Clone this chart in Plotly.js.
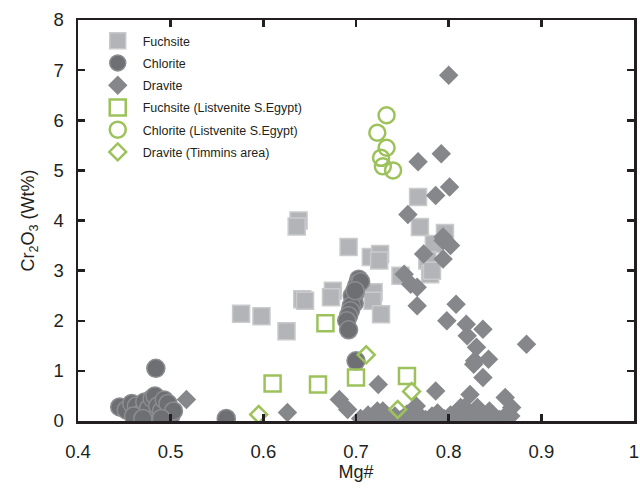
<!DOCTYPE html>
<html>
<head>
<meta charset="utf-8">
<script src="https://cdn.plot.ly/plotly-3.0.1.min.js"></script>
<style>
  html, body { margin: 0; padding: 0; background: #ffffff; }
  #chart { width: 640px; height: 491px; }
</style>
</head>
<body>
<div id="chart"></div>
<script>
// Mg# versus Cr2O3 (wt%) for fuchsite, chlorite and dravite analyses

// Fuchsite
const fuchsiteMg = [0.638, 0.636, 0.576, 0.598, 0.625, 0.642, 0.645, 0.692, 0.716, 0.726, 0.725,
  0.675, 0.673, 0.719, 0.718, 0.727, 0.767, 0.769, 0.796, 0.784, 0.777, 0.780, 0.748, 0.782];
const fuchsiteCr = [4.00, 3.88, 2.14, 2.09, 1.79, 2.43, 2.40, 3.47, 3.27, 3.33, 3.20,
  2.60, 2.47, 2.57, 2.40, 2.13, 4.47, 3.87, 3.75, 3.53, 3.20, 2.93, 2.90, 3.00];

// Chlorite
const chloriteMg = [0.445, 0.452, 0.458, 0.463, 0.468, 0.472, 0.476, 0.480, 0.483, 0.486, 0.490,
  0.493, 0.497, 0.500, 0.503, 0.460, 0.470, 0.490, 0.484, 0.560,
  0.703, 0.702, 0.700, 0.699, 0.697, 0.698, 0.696, 0.701, 0.695, 0.694, 0.692, 0.690, 0.692,
  0.700, 0.705, 0.699];
const chloriteCr = [0.28, 0.22, 0.35, 0.30, 0.15, 0.38, 0.25, 0.45, 0.50, 0.30, 0.20,
  0.42, 0.35, 0.10, 0.20, 0.10, 0.05, 0.05, 1.05, 0.05,
  2.83, 2.75, 2.65, 2.55, 2.45, 2.35, 2.50, 2.70, 2.30, 2.20, 2.10, 2.00, 1.82,
  1.20, 2.78, 2.60];

// Dravite
const draviteMg = [0.800, 0.792, 0.767, 0.801, 0.786, 0.756, 0.794, 0.794, 0.802, 0.773, 0.794,
  0.752, 0.759, 0.766, 0.766, 0.808, 0.798, 0.819, 0.837, 0.820, 0.830, 0.828, 0.843, 0.837,
  0.884, 0.724, 0.786, 0.823, 0.861, 0.868, 0.682, 0.691, 0.626, 0.723, 0.517,
  0.827, 0.817, 0.765, 0.729, 0.813, 0.831, 0.844, 0.867,
  0.705, 0.713, 0.720, 0.728, 0.735, 0.742, 0.748, 0.755, 0.762, 0.768, 0.775, 0.782,
  0.788, 0.795, 0.802, 0.808, 0.815, 0.822, 0.828, 0.835, 0.842, 0.848, 0.855, 0.862];
const draviteCr = [6.90, 5.33, 5.17, 4.67, 4.50, 4.12, 3.67, 3.60, 3.50, 3.33, 3.23,
  2.93, 2.73, 2.67, 2.30, 2.33, 2.00, 1.93, 1.83, 1.70, 1.47, 1.20, 1.23, 0.87,
  1.53, 0.73, 0.60, 0.53, 0.47, 0.27, 0.43, 0.23, 0.17, 0.20, 0.43,
  1.13, 0.27, 0.30, 0.20, 0.27, 0.27, 0.20, 0.10,
  0.05, 0.12, 0.03, 0.15, 0.06, 0.10, 0.02, 0.14, 0.08, 0.12, 0.03, 0.10,
  0.16, 0.05, 0.12, 0.03, 0.15, 0.08, 0.03, 0.12, 0.05, 0.10, 0.03, 0.12];

// Fuchsite (Listvenite S.Egypt)
const fuchsiteLsMg = [0.667, 0.610, 0.659, 0.700, 0.755];
const fuchsiteLsCr = [1.95, 0.75, 0.73, 0.87, 0.90];

// Chlorite (Listvenite S.Egypt)
const chloriteLsMg = [0.733, 0.723, 0.733, 0.727, 0.729, 0.740];
const chloriteLsCr = [6.10, 5.75, 5.45, 5.25, 5.08, 5.00];

// Dravite (Timmins area)
const draviteTiMg = [0.711, 0.760, 0.745, 0.595];
const draviteTiCr = [1.32, 0.59, 0.23, 0.13];

const xTickVals = [0.4, 0.5, 0.6, 0.7, 0.8, 0.9, 1];
const xTickText = ['0.4', '0.5', '0.6', '0.7', '0.8', '0.9', '1'];
const yTickVals = [0, 1, 2, 3, 4, 5, 6, 7, 8];

const green = '#9dc25b';

const traces = [
  {
    name: 'Fuchsite', x: fuchsiteMg, y: fuchsiteCr, type: 'scatter', mode: 'markers',
    legendgroup: 'g1',
    marker: { symbol: 'square', size: 17, color: '#b3b4b7', line: { color: '#c9cacc', width: 1.5 } }
  },
  {
    name: 'Chlorite', x: chloriteMg, y: chloriteCr, type: 'scatter', mode: 'markers',
    legendgroup: 'g2',
    marker: { symbol: 'circle', size: 18, color: '#6e6f72', line: { color: '#8c8d90', width: 1.5 } }
  },
  {
    name: 'Dravite', x: draviteMg, y: draviteCr, type: 'scatter', mode: 'markers',
    legendgroup: 'g3',
    marker: { symbol: 'diamond', size: 15, color: '#86878b', line: { color: '#86878b', width: 0 } }
  },
  {
    name: 'Fuchsite (Listvenite S.Egypt)', x: fuchsiteLsMg, y: fuchsiteLsCr, type: 'scatter', mode: 'markers',
    legendgroup: 'g4',
    marker: { symbol: 'square-open', size: 16, color: green, line: { color: green, width: 2.5 } }
  },
  {
    name: 'Chlorite (Listvenite S.Egypt)', x: chloriteLsMg, y: chloriteLsCr, type: 'scatter', mode: 'markers',
    legendgroup: 'g5',
    marker: { symbol: 'circle-open', size: 16, color: green, line: { color: green, width: 2.5 } }
  },
  {
    name: 'Dravite (Timmins area)', x: draviteTiMg, y: draviteTiCr, type: 'scatter', mode: 'markers',
    legendgroup: 'g6',
    marker: { symbol: 'diamond-open', size: 13, color: green, line: { color: green, width: 2.5 } }
  }
];

const axisLine = '#231f20';
const fontFamily = 'Liberation Sans, Arial, sans-serif';

const layout = {
  width: 640,
  height: 491,
  margin: { l: 78, r: 6, t: 20, b: 70, pad: 0 },
  paper_bgcolor: '#ffffff',
  plot_bgcolor: '#ffffff',
  font: { family: fontFamily, color: '#231f20', size: 18 },
  showlegend: true,
  legend: {
    x: 0.0265, y: 0.985, xanchor: 'left', yanchor: 'top',
    bgcolor: 'rgba(0,0,0,0)', borderwidth: 0,
    font: { family: fontFamily, size: 12.5, color: '#231f20' },
    itemwidth: 40, tracegroupgap: 3, traceorder: 'grouped'
  },
  xaxis: {
    range: [0.4, 1], tickvals: xTickVals, ticktext: xTickText,
    showgrid: false, zeroline: false,
    showline: true, linecolor: axisLine, linewidth: 2.5, mirror: 'ticks',
    ticks: 'inside', ticklen: 7, tickwidth: 2.5, tickcolor: axisLine,
    tickfont: { size: 18.5 }, ticklabelstandoff: 12,
    title: { text: 'Mg#', font: { size: 18 }, standoff: 3 }
  },
  yaxis: {
    range: [0, 8], tickvals: yTickVals,
    showgrid: false, zeroline: false,
    showline: true, linecolor: axisLine, linewidth: 2.5, mirror: 'ticks',
    ticks: 'inside', ticklen: 7, tickwidth: 2.5, tickcolor: axisLine,
    tickfont: { size: 18.5 }, ticklabelstandoff: 8,
    title: { text: 'Cr<sub>2</sub>O<sub>3</sub> (Wt%)', font: { size: 18 }, standoff: 14 }
  }
};

Plotly.newPlot('chart', traces, layout, { displayModeBar: false, staticPlot: true });
</script>
</body>
</html>
